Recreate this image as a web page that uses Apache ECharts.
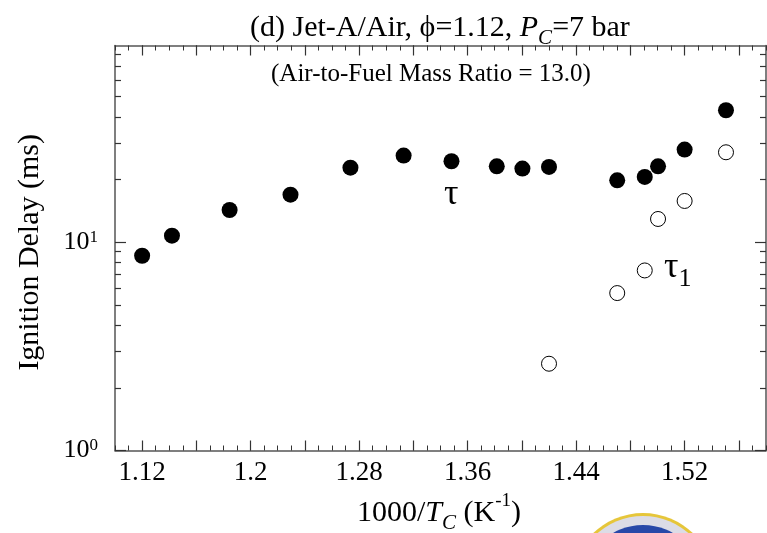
<!DOCTYPE html>
<html><head><meta charset="utf-8">
<script src="https://cdn.jsdelivr.net/npm/echarts@6/dist/echarts.min.js"></script>
<style>html,body{margin:0;padding:0;background:#fff}#c{width:767px;height:533px}</style>
</head><body><div id="c"></div>
<script>
// Ignition delay tau (filled) and tau1 (open) vs 1000/Tc
const tauX  = [1.12, 1.142, 1.1845, 1.2294, 1.2736, 1.3128, 1.3481, 1.3815, 1.4004, 1.42, 1.4703, 1.4906, 1.5004, 1.52, 1.5505];
const tauY  = [8.61, 10.75, 14.28, 16.92, 22.8, 26.05, 24.47, 23.14, 22.56, 23.0, 19.82, 20.58, 23.14, 27.85, 43.0];
const tau1X = [1.42, 1.4703, 1.4906, 1.5004, 1.52, 1.5505];
const tau1Y = [2.61, 5.70, 7.32, 12.93, 15.78, 27.03];
const xLabelTicks = [1.12, 1.20, 1.28, 1.36, 1.44, 1.52];
const xMajorTicks = [1.12, 1.16, 1.20, 1.24, 1.28, 1.32, 1.36, 1.40, 1.44, 1.48, 1.52, 1.56];
const yLabelTicks = [1, 10];
const yMinorTicks = [2, 3, 4, 5, 6, 7, 8, 9, 20, 30, 40, 50, 60, 70, 80];

const FONT = '"Liberation Serif", "DejaVu Serif", serif';
const AX = '#555';
const xMin = 1.10, xMax = 1.58, yMin = 1, yMax = 88;

function xAx(pos, major, labels) {
  return {
    type: 'value', gridIndex: 0, position: pos, min: xMin, max: xMax,
    interval: major ? undefined : 0.01,
    axisLine: {show: major, lineStyle: {color: AX, width: 1.5}},
    axisTick: major ? {show: true, inside: true, length: 10, customValues: xMajorTicks, lineStyle: {color: '#333', width: 1.2}}
                    : {show: true, inside: true, length: 5, lineStyle: {color: '#333', width: 1}},
    axisLabel: labels ? {show: true, customValues: xLabelTicks, margin: 9,
      formatter: v => String(+(+v).toFixed(2)),
      fontFamily: FONT, fontSize: 27, color: '#000'} : {show: false},
    splitLine: {show: false}
  };
}
function yAx(pos, major, labels) {
  return {
    type: 'log', logBase: 10, gridIndex: 0, position: pos, min: yMin, max: yMax,
    axisLine: {show: major, lineStyle: {color: AX, width: 1.5}},
    axisTick: {show: true, inside: true, length: major ? 11 : 6,
      customValues: major ? yLabelTicks : yMinorTicks, lineStyle: {color: '#333', width: 1.2}},
    axisLabel: labels ? {show: true, customValues: yLabelTicks, margin: 17,
      formatter: v => '{b|10}{s|' + Math.round(Math.log10(v)) + '}',
      rich: {b: {fontFamily: FONT, fontSize: 26, color: '#000', lineHeight: 26},
             s: {fontFamily: FONT, fontSize: 17, color: '#000', verticalAlign: 'top', lineHeight: 26}}} : {show: false},
    splitLine: {show: false}, minorTick: {show: false}
  };
}

const chart = echarts.init(document.getElementById('c'), null, {renderer: 'canvas'});
chart.setOption({
  animation: false,
  backgroundColor: '#fff',
  title: [{
    text: '{t|(d) Jet-A/Air, ϕ=1.12, }{i|P}{s|C}{t|=7 bar}',
    left: 245, top: 2,
    textStyle: {rich: {
      t: {fontFamily: FONT, fontSize: 30, fontWeight: 'normal', color: '#000', lineHeight: 36},
      i: {fontFamily: FONT, fontSize: 30, fontWeight: 'normal', fontStyle: 'italic', color: '#000', lineHeight: 36},
      s: {fontFamily: FONT, fontSize: 21, fontWeight: 'normal', fontStyle: 'italic', color: '#000', verticalAlign: 'bottom', lineHeight: 42}
    }}
  }, {
    text: '(Air-to-Fuel Mass Ratio = 13.0)',
    left: 266, top: 57,
    textStyle: {fontFamily: FONT, fontSize: 25, fontWeight: 'normal', color: '#000'}
  }],
  grid: {left: 115, top: 45.5, width: 651, height: 405, containLabel: false},
  xAxis: [xAx('bottom', true, true), xAx('bottom', false, false), xAx('top', true, false), xAx('top', false, false)],
  yAxis: [yAx('left', true, true), yAx('left', false, false), yAx('right', true, false), yAx('right', false, false)],
  graphic: [
    {type: 'text', left: 15, top: 134, rotation: Math.PI / 2, style: {
      text: 'Ignition Delay (ms)', font: '30px ' + FONT, fill: '#000'}},
    {type: 'text', left: 357, top: 492, style: {
      text: '{n|1000/}{i|T}{s|C}{n| (K}{p|-1}{n|)}',
      rich: {
        n: {fontFamily: FONT, fontSize: 30, color: '#000', lineHeight: 34},
        i: {fontFamily: FONT, fontSize: 30, fontStyle: 'italic', color: '#000', lineHeight: 34},
        s: {fontFamily: FONT, fontSize: 21, fontStyle: 'italic', color: '#000', verticalAlign: 'bottom', lineHeight: 42},
        p: {fontFamily: FONT, fontSize: 19, color: '#000', verticalAlign: 'top', lineHeight: 34}
      }}},
    {type: 'circle', shape: {cx: 643, cy: 585, r: 72}, style: {fill: '#e6c63a'}, z: 1},
    {type: 'circle', shape: {cx: 643, cy: 585, r: 69}, style: {fill: '#dcdce6'}, z: 2},
    {type: 'circle', shape: {cx: 643, cy: 585, r: 60}, style: {fill: '#2848a8'}, z: 3}
  ],
  series: [{
    type: 'scatter', xAxisIndex: 0, yAxisIndex: 0,
    data: tauX.map((x, i) => [x, tauY[i]]),
    symbol: 'circle', symbolSize: 16, itemStyle: {color: '#000', opacity: 1},
    markPoint: {symbol: 'circle', symbolSize: 0, data: [
      {coord: [1.348, 17.0], label: {show: true, position: 'inside', formatter: 'τ', fontFamily: FONT, fontSize: 36, color: '#000'}},
      {coord: [1.515, 7.54], label: {show: true, position: 'inside', formatter: '{a|τ}{b|1}',
        rich: {a: {fontFamily: FONT, fontSize: 36, color: '#000', lineHeight: 36},
               b: {fontFamily: FONT, fontSize: 26, color: '#000', verticalAlign: 'bottom', lineHeight: 48}}}}
    ]}
  }, {
    type: 'scatter', xAxisIndex: 0, yAxisIndex: 0,
    data: tau1X.map((x, i) => [x, tau1Y[i]]),
    symbol: 'circle', symbolSize: 15, itemStyle: {color: '#fff', borderColor: '#000', borderWidth: 1, opacity: 1}
  }]
});
</script></body></html>
